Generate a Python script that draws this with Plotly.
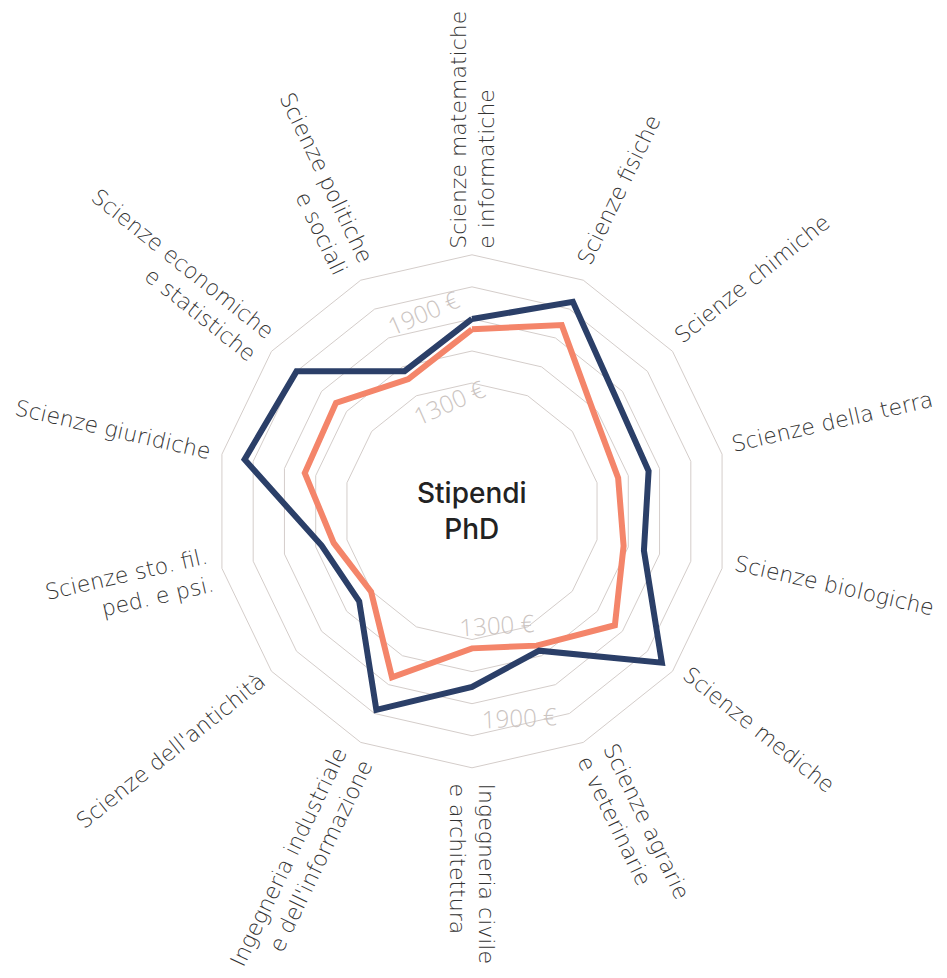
import math
import plotly.graph_objects as go

# ---------------- data ----------------
categories = [
    "Scienze matematiche e informatiche",
    "Scienze fisiche",
    "Scienze chimiche",
    "Scienze della terra",
    "Scienze biologiche",
    "Scienze mediche",
    "Scienze agrarie e veterinarie",
    "Ingegneria civile e architettura",
    "Ingegneria industriale e dell'informazione",
    "Scienze dell'antichità",
    "Scienze sto. fil. ped. e psi.",
    "Scienze giuridiche",
    "Scienze economiche e statistiche",
    "Scienze politiche e sociali",
]
category_labels = [
    "Scienze matematiche<br>e informatiche",
    "Scienze fisiche",
    "Scienze chimiche",
    "Scienze della terra",
    "Scienze biologiche",
    "Scienze mediche",
    "Scienze agrarie<br>e veterinarie",
    "Ingegneria civile<br>e architettura",
    "Ingegneria industriale<br>e dell'informazione",
    "Scienze dell'antichità",
    "Scienze sto. fil.<br>ped. e psi.",
    "Scienze giuridiche",
    "Scienze economiche<br>e statistiche",
    "Scienze politiche<br>e sociali",
]
serie_blu = [1700, 1950, 1645, 1630, 1600, 2015, 1465, 1595, 1875, 1400, 1462, 1955, 1900, 1470]
serie_salmone = [1635, 1790, 1475, 1435, 1470, 1640, 1430, 1355, 1650, 1305, 1385, 1570, 1585, 1415]
grid_values = [1300, 1500, 1700, 1900]
tick_values = [1300, 1900]
tick_texts = ["1300 €", "1900 €"]
center_title = "Stipendi<br>PhD"

# ---------------- style / layout ----------------
W, H = 947, 978
CX, CY, R = 472, 511.3, 256.5
DOM = dict(x=[(CX - R) / W, (CX + R) / W], y=[(H - CY - R) / H, (H - CY + R) / H])
R_RANGE = [500, 2100]
GRID = "#d4cdca"
NAVY = "#2b3f68"
SALMON = "#f4856a"
LABEL_FS = 22
LABEL_FONT = dict(family="DejaVu Sans", size=LABEL_FS, color="#333333", weight=200)
TICK_FONT = dict(family="Open Sans", size=24, color="#cbc4c1", weight=300)
GAP = 7
RIGHT_FIX = 7
TXT_DIR = 12.857
# (axis angle, leading no-break spaces) for the value labels
RADIAL_LABEL_STYLE = {"top": [(117.5, 1), (118.0, 7)], "bottom": [(266.4, 0), (267.5, 7)]}


def norm(a):
    return (a + 180) % 360 - 180


fig = go.Figure()
polars = {}

# main polar with the grid and the series
polars["polar"] = dict(
    domain=DOM, bgcolor="rgba(0,0,0,0)", gridshape="linear",
    radialaxis=dict(range=R_RANGE, tickmode="array", tickvals=grid_values,
                    showticklabels=False, ticks="", showline=False,
                    gridcolor=GRID, gridwidth=1),
    angularaxis=dict(type="category", categoryorder="array", categoryarray=categories,
                     direction="clockwise", rotation=90, showgrid=False,
                     showline=True, linecolor=GRID, linewidth=1,
                     ticks="", showticklabels=False),
)
for vals, col in ((serie_salmone, SALMON), (serie_blu, NAVY)):
    fig.add_trace(go.Scatterpolar(
        r=vals + vals[:1], theta=categories + categories[:1], mode="lines",
        line=dict(color=col, width=6), hoverinfo="skip", showlegend=False,
        subplot="polar"))


def ghost(name):
    fig.add_trace(go.Scatterpolar(
        r=serie_blu, theta=categories, mode="lines",
        line=dict(width=0, color="rgba(0,0,0,0)"), hoverinfo="skip",
        showlegend=False, subplot=name))


# one polar per category label so that each label can be rotated radially
step = 360 / len(categories)
k = 2
for i, lab in enumerate(category_labels):
    th = 90 - i * step
    t = math.radians(th)
    s_, c_ = math.sin(t), math.cos(t)
    n = lab.count("<br>") + 1
    ff = 0.2 if s_ > 0 else 1.0
    fs = LABEL_FS
    fix = 0
    if abs(c_) < 0.1:
        tickangle = -90 if s_ > 0 else 90
        wsign = 1
        lines = lab.split("<br>")
        pad = (lambda ln: ln[:-2]) if s_ > 0 else (lambda ln: ln)
        text = "<br>".join(
            f"<span style='color:rgba(0,0,0,0)'>{pad(ln)}</span>{ln}" for ln in lines)
    elif c_ > 0:
        tickangle = norm(-th)
        wsign = 1
        text = lab
        fix = RIGHT_FIX
    else:
        tickangle = norm(180 - th)
        wsign = -1
        text = lab
    radial_extra = s_ * s_ * fs * ff + s_ * fs * (0.5 - 0.35 * abs(c_))
    tl = max(0.0, GAP - radial_extra)
    qv = -s_ * c_ * fs * ff + c_ * fs * (0.35 * abs(c_) - 0.5)
    hshift = -0.5 * (1 + s_) * (n - 1) * 1.3 * fs
    tang = qv + wsign * (0.15 * fs + hshift + (n - 1) * 0.65 * fs) + fix
    delta = math.degrees(tang / R)
    name = f"polar{k}"
    ghost(name)
    polars[name] = dict(
        domain=DOM, bgcolor="rgba(0,0,0,0)", gridshape="linear",
        radialaxis=dict(visible=False, range=R_RANGE),
        angularaxis=dict(type="category", categoryorder="array", categoryarray=categories,
                         direction="clockwise", rotation=90 + delta,
                         showgrid=False, showline=False,
                         ticks="outside", ticklen=tl, tickcolor="rgba(0,0,0,0)",
                         tickmode="array", tickvals=[categories[i]], ticktext=[text],
                         tickangle=tickangle, tickfont=LABEL_FONT),
    )
    k += 1

# radial value labels (two above, two below the centre)
for pos in ("top", "bottom"):
    for j, v in enumerate(tick_values):
        ang, nsp = RADIAL_LABEL_STYLE[pos][j]
        lead = "\u00a0" * nsp
        if pos == "top":
            text = "\u00a0<br>" + lead + tick_texts[j]
            side = "clockwise"
        else:
            text = lead + tick_texts[j] + "<br>\u00a0"
            side = "counterclockwise"
        name = f"polar{k}"
        ghost(name)
        polars[name] = dict(
            domain=DOM, bgcolor="rgba(0,0,0,0)", gridshape="linear",
            angularaxis=dict(visible=False, type="category", categoryarray=categories,
                             categoryorder="array"),
            radialaxis=dict(range=R_RANGE, angle=norm(ang), side=side,
                            tickmode="array", tickvals=[v], ticktext=[text],
                            tickangle=norm(ang - TXT_DIR), showgrid=False,
                            showline=False, ticks="", tickfont=TICK_FONT),
        )
        k += 1

fig.update_layout(
    width=W, height=H, margin=dict(l=0, r=0, t=0, b=0),
    paper_bgcolor="white", plot_bgcolor="white", showlegend=False,
    annotations=[dict(
        text=center_title, x=sum(DOM["x"]) / 2, y=sum(DOM["y"]) / 2,
        xref="paper", yref="paper", xanchor="center", yanchor="middle",
        showarrow=False,
        font=dict(family="Inter", size=28, color="#222222", weight=500))],
    **polars,
)
fig.write_html("out.html")
